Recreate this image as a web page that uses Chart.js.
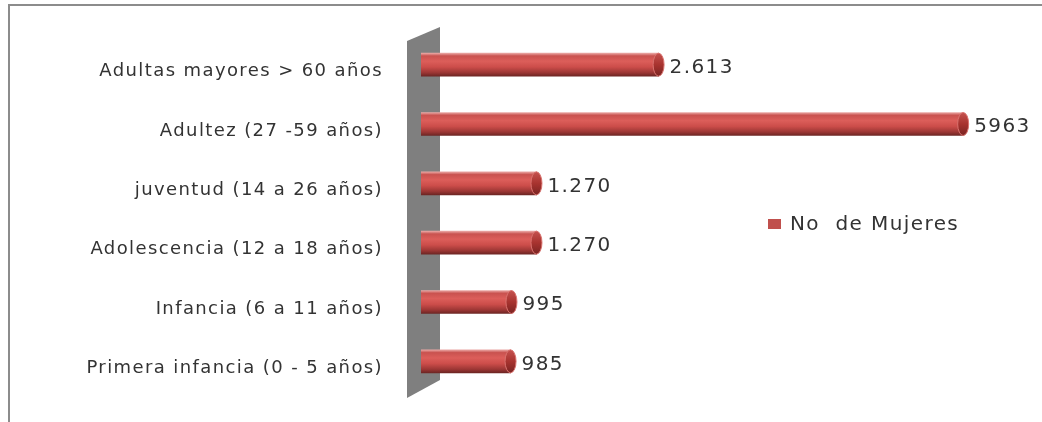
<!DOCTYPE html>
<html>
<head>
<meta charset="utf-8">
<script src="https://cdn.jsdelivr.net/npm/chart.js@4.4.1/dist/chart.umd.min.js"></script>
<style>
  html, body { margin: 0; padding: 0; background: #fff; }
  #wrap { width: 1042px; height: 422px; position: relative; }
</style>
</head>
<body>
<div id="wrap"><canvas id="myChart" width="1042" height="422"></canvas></div>
<script>
const categorias = [
    'Adultas mayores > 60 años',
    'Adultez (27 -59 años)',
    'juventud (14 a 26 años)',
    'Adolescencia (12 a 18 años)',
    'Infancia (6 a 11 años)',
    'Primera infancia (0 - 5 años)'
];
const mujeres = [2613, 5963, 1270, 1270, 995, 985];
const etiquetasValor = ['2.613', '5963', '1.270', '1.270', '995', '985'];
const nombreSerie = 'No  de Mujeres';

const fuente = '"DejaVu Sans", Verdana, sans-serif';
const colorTexto = '#333333';
const rojo = '#c0504d';

function gradienteCilindro(context) {
    const chart = context.chart;
    if (!chart.chartArea) return rojo;
    const y = chart.scales.y.getPixelForValue(context.dataIndex);
    const h = 11.5;
    const g = chart.ctx.createLinearGradient(0, y - h, 0, y + h);
    g.addColorStop(0, '#eaa6a3');
    g.addColorStop(0.12, '#c9524f');
    g.addColorStop(0.35, '#dc5e5a');
    g.addColorStop(0.6, '#cc4d4a');
    g.addColorStop(0.85, '#9b3634');
    g.addColorStop(1, '#6e2624');
    return g;
}

// marco, pared gris, tapas de los cilindros, etiquetas y leyenda
const decoracion = {
    id: 'decoracion',
    beforeDraw(chart) {
        chart.ctx.letterSpacing = '1.4px';
        const ctx = chart.ctx;
        ctx.save();
        ctx.strokeStyle = '#8c8c8c';
        ctx.lineWidth = 2;
        ctx.beginPath();
        ctx.moveTo(1042, 5);
        ctx.lineTo(9, 5);
        ctx.lineTo(9, 422);
        ctx.stroke();
        ctx.restore();
    },
    beforeDatasetsDraw(chart) {
        const ctx = chart.ctx;
        const a = chart.chartArea;
        ctx.save();
        ctx.fillStyle = '#7f7f7f';
        ctx.beginPath();
        ctx.moveTo(a.left - 14, a.top + 6);
        ctx.lineTo(a.left + 19, a.top - 8);
        ctx.lineTo(a.left + 19, a.bottom - 11);
        ctx.lineTo(a.left - 14, a.bottom + 7);
        ctx.closePath();
        ctx.fill();
        ctx.restore();
    },
    afterDatasetsDraw(chart) {
        const ctx = chart.ctx;
        const meta = chart.getDatasetMeta(0);
        ctx.save();
        meta.data.forEach((bar, i) => {
            const h = bar.height / 2;
            const g = ctx.createLinearGradient(0, bar.y - h, 0, bar.y + h);
            g.addColorStop(0, '#c5524f');
            g.addColorStop(0.5, '#a8332f');
            g.addColorStop(1, '#7a2422');
            ctx.fillStyle = g;
            ctx.strokeStyle = '#d9726e';
            ctx.lineWidth = 1;
            ctx.beginPath();
            ctx.ellipse(bar.x, bar.y, 5.5, h, 0, 0, Math.PI * 2);
            ctx.fill();
            ctx.stroke();

            ctx.fillStyle = colorTexto;
            ctx.font = '20px ' + fuente;
            ctx.textAlign = 'left';
            ctx.textBaseline = 'middle';
            ctx.fillText(etiquetasValor[i], bar.x + 11, bar.y + 3);
        });

        // leyenda
        ctx.fillStyle = rojo;
        ctx.fillRect(768, 219, 13, 10);
        ctx.fillStyle = colorTexto;
        ctx.font = '20px ' + fuente;
        ctx.textBaseline = 'middle';
        ctx.fillText(nombreSerie, 790, 225);
        ctx.restore();
    }
};

const config = {
    type: 'bar',
    data: {
        labels: categorias,
        datasets: [{
            label: nombreSerie,
            data: mujeres,
            backgroundColor: gradienteCilindro,
            borderWidth: 0,
            barThickness: 23
        }]
    },
    options: {
        indexAxis: 'y',
        responsive: false,
        animation: false,
        devicePixelRatio: 1,
        layout: { padding: { left: 0, right: 30, top: 35, bottom: 31 } },
        plugins: {
            legend: { display: false },
            tooltip: { enabled: false }
        },
        scales: {
            x: {
                display: false,
                min: 0,
                max: 6500
            },
            y: {
                afterFit(scale) {
                    scale.width = 421;
                    scale.paddingTop = 0;
                    scale.paddingBottom = 0;
                },
                grid: { display: false, drawTicks: false },
                border: { display: false },
                ticks: {
                    color: colorTexto,
                    padding: 38,
                    labelOffset: 7,
                    font: { family: fuente, size: 18 }
                }
            }
        }
    },
    plugins: [decoracion]
};

new Chart(document.getElementById('myChart'), config);
</script>
</body>
</html>
